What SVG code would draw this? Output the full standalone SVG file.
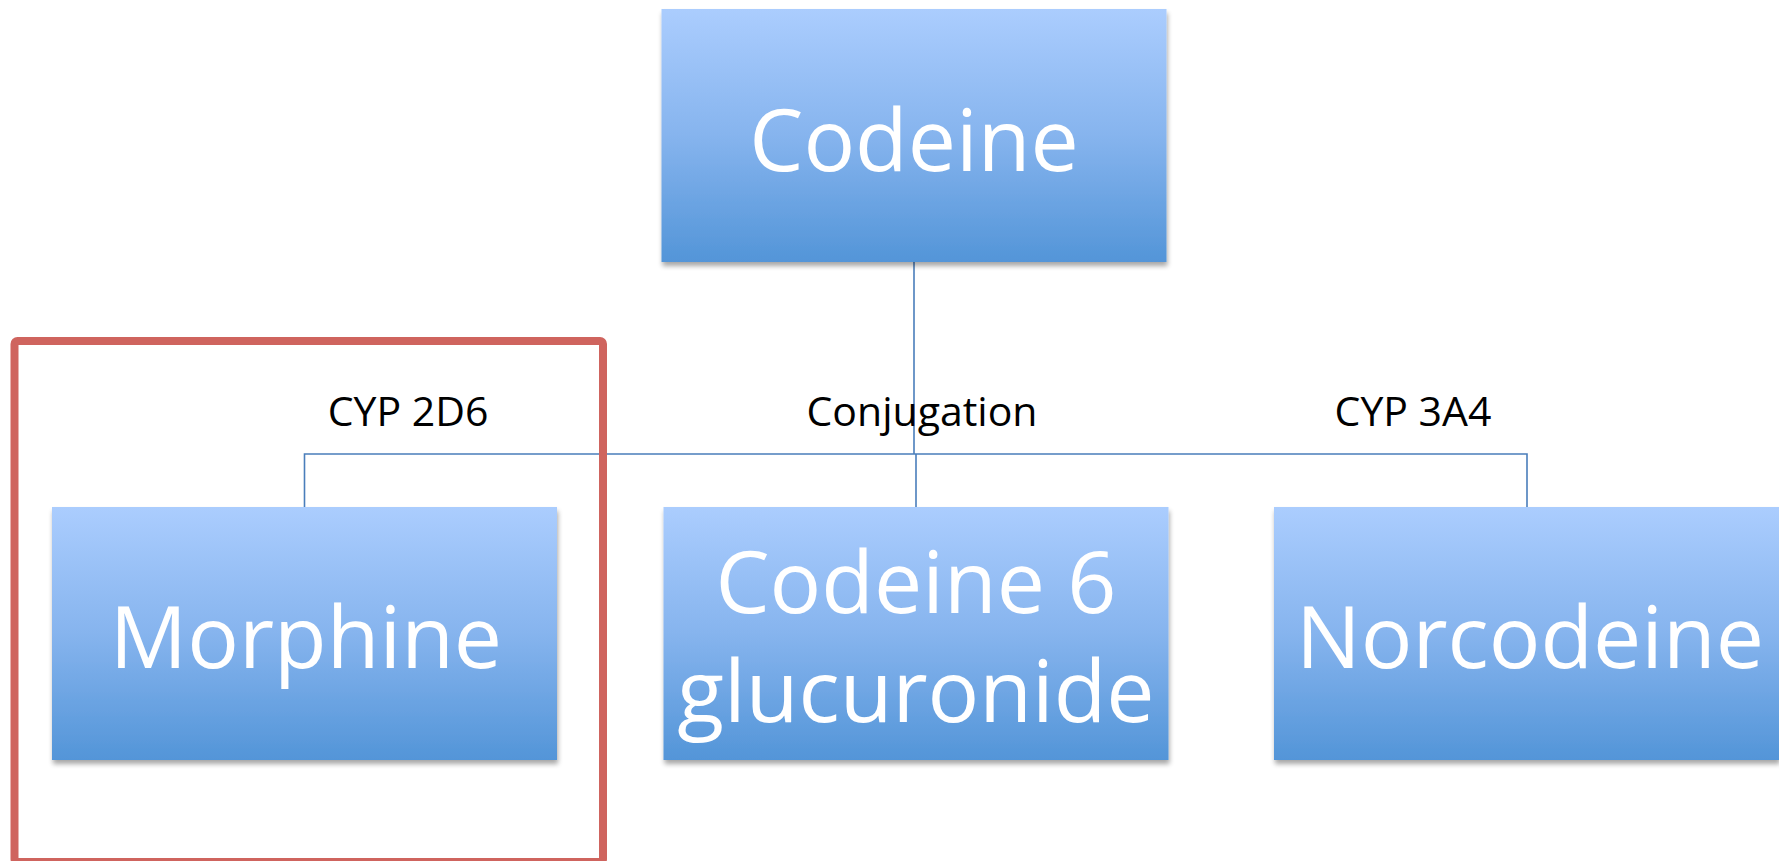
<svg xmlns="http://www.w3.org/2000/svg" width="1779" height="861" viewBox="0 0 1779 861">
<defs>
<linearGradient id="boxGrad" x1="0" y1="0" x2="0" y2="1">
<stop offset="0" stop-color="#abcdfe"/>
<stop offset="0.5" stop-color="#86b4ee"/>
<stop offset="1" stop-color="#5395d8"/>
</linearGradient>
<filter id="shadow" x="-5%" y="-5%" width="110%" height="115%">
<feGaussianBlur in="SourceAlpha" stdDeviation="2.5"/>
<feOffset dx="1" dy="4" result="b"/>
<feComponentTransfer><feFuncA type="linear" slope="0.35"/></feComponentTransfer>
<feMerge><feMergeNode/><feMergeNode in="SourceGraphic"/></feMerge>
</filter>
</defs>
<style>
.box{fill:url(#boxGrad);filter:url(#shadow);}
.big{font-family:"Open Sans","Noto Sans",sans-serif;font-size:86px;fill:#ffffff;text-anchor:middle;}
.lbl{font-family:"Open Sans","Noto Sans",sans-serif;font-size:41px;fill:#000000;text-anchor:middle;}
.conn{fill:none;stroke:#4a7ebb;stroke-width:1.6;}
</style>
<rect x="0" y="0" width="1779" height="861" fill="#ffffff"/>
<g id="connectors">
<line class="conn" x1="914" y1="262" x2="914" y2="454"/>
<polyline class="conn" points="304.5,507 304.5,454 1527,454 1527,507"/>
<line class="conn" x1="916" y1="454" x2="916" y2="507"/>
</g>
<g id="codeine">
<rect class="box" x="661.5" y="9" width="505" height="253"/>
<text class="big" x="914" y="171">Codeine</text>
</g>
<g id="morphine">
<rect class="box" x="52" y="507" width="505" height="253"/>
<text class="big" x="306" y="668">Morphine</text>
</g>
<g id="codeine6">
<rect class="box" x="663.5" y="507" width="505" height="253"/>
<text class="big" x="916" y="613">Codeine 6</text>
<text class="big" x="916" y="722">glucuronide</text>
</g>
<g id="norcodeine">
<rect class="box" x="1274" y="507" width="505" height="253"/>
<text class="big" x="1530" y="668">Norcodeine</text>
</g>
<g id="labels">
<text class="lbl" x="408" y="426">CYP 2D6</text>
<text class="lbl" x="922" y="426">Conjugation</text>
<text class="lbl" x="1413" y="426">CYP 3A4</text>
</g>
<g id="highlight">
<rect x="14.5" y="341" width="588.5" height="521" rx="3" fill="none" stroke="#cf645e" stroke-width="8"/>
</g>
</svg>
